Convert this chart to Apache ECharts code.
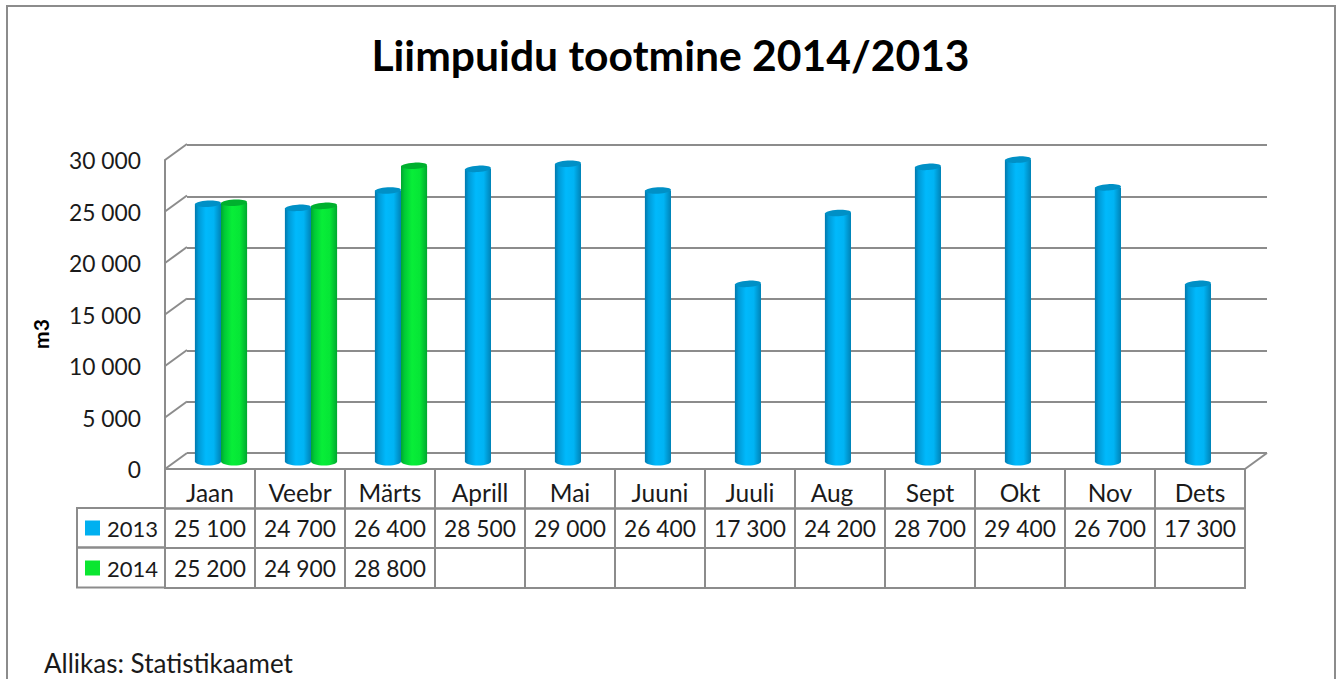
<!DOCTYPE html>
<html>
<head>
<meta charset="utf-8">
<title>Liimpuidu tootmine 2014/2013</title>
<script src="https://cdn.jsdelivr.net/npm/echarts@6/dist/echarts.min.js"></script>
<style>
  html, body { margin: 0; padding: 0; background: #fff; }
  #chart { width: 1341px; height: 679px; }
</style>
</head>
<body>
<div id="chart"></div>
<script>
var months = ['Jaan', 'Veebr', 'Märts', 'Aprill', 'Mai', 'Juuni', 'Juuli', 'Aug', 'Sept', 'Okt', 'Nov', 'Dets'];
var values2013 = [25100, 24700, 26400, 28500, 29000, 26400, 17300, 24200, 28700, 29400, 26700, 17300];
var values2014 = [25200, 24900, 28800, null, null, null, null, null, null, null, null, null];
var yTicks = [0, 5000, 10000, 15000, 20000, 25000, 30000];

(function() {
  var font = 'Lato, "Open Sans", sans-serif';
  var ink = '#1a1a1a';
  var rule = '#8c8c8c';
  var blue = '#00b0f0';
  var green = '#0ae630';
  var rowH = 39.5;
  var labelSize = 22.8;

  function fmt(v) {
    return String(v).replace(/\B(?=(\d{3})+$)/g, ' ');
  }

  function bodyFill(stops) {
    return new echarts.graphic.LinearGradient(0, 0, 1, 0, stops);
  }
  var blueBody = [
    { offset: 0, color: '#0078ac' }, { offset: 0.14, color: '#009ad6' },
    { offset: 0.42, color: '#00b9fc' }, { offset: 0.72, color: '#00b4f4' },
    { offset: 1, color: '#0082b6' }
  ];
  var greenBody = [
    { offset: 0, color: '#00a532' }, { offset: 0.14, color: '#00cb36' },
    { offset: 0.42, color: '#08ee38' }, { offset: 0.72, color: '#06e636' },
    { offset: 1, color: '#00a830' }
  ];

  // one cylinder, side -1 is left of the category centre, 0 is right of it
  function cylinder(side, stops, capColor) {
    return function(params, api) {
      if (isNaN(api.value(1))) return;
      var top = api.coord([api.value(0), api.value(1)]);
      var base = api.coord([api.value(0), 0]);
      var w = api.size([1, 0])[0] * 0.29;
      var x = top[0] + side * w;
      var fill = bodyFill(stops);
      return {
        type: 'group',
        children: [
          { type: 'ellipse', shape: { cx: x + w / 2, cy: base[1], rx: w / 2, ry: 4 }, style: { fill: fill } },
          { type: 'rect', shape: { x: x, y: top[1], width: w, height: base[1] - top[1] }, style: { fill: fill } },
          {
            type: 'ellipse',
            shape: { cx: 0, cy: 0, rx: w / 2, ry: 3.2 },
            x: x + w / 2, y: top[1], rotation: 0.06,
            style: { fill: capColor }
          }
        ]
      };
    };
  }

  // diagonal lines on the side wall and floor, from the front plane to the back wall
  var depthX = 22;
  var depthY = -16;
  function wallLine(params, api) {
    var v = api.value(0);
    var p = api.coord([0, v]);
    var x0 = params.coordSys.x;
    return {
      type: 'line',
      shape: { x1: x0, y1: p[1], x2: x0 + depthX, y2: p[1] + depthY },
      style: { stroke: rule, lineWidth: 2 }
    };
  }
  function floorEnd(params, api) {
    var p = api.coord([0, 0]);
    var x1 = params.coordSys.x + params.coordSys.width;
    return {
      type: 'line',
      shape: { x1: x1, y1: p[1], x2: x1 + depthX, y2: p[1] + depthY },
      style: { stroke: rule, lineWidth: 2 }
    };
  }

  // table under the plot, one column per category
  function tableColumn(params, api) {
    var i = api.value(0);
    var floor = api.coord([i, 0]);
    var w = api.size([1, 0])[0];
    var left = floor[0] - w / 2;
    var y0 = floor[1];
    var line = { fill: 'none', stroke: rule, lineWidth: 2 };
    var children = [
      { type: 'rect', shape: { x: left, y: y0, width: w, height: rowH }, style: line },
      { type: 'rect', shape: { x: left, y: y0 + rowH, width: w, height: rowH }, style: line },
      { type: 'rect', shape: { x: left, y: y0 + rowH * 2, width: w, height: rowH + 0.5 }, style: line }
    ];
    [api.value(1), api.value(2)].forEach(function(v, r) {
      if (isNaN(v)) return;
      children.push({
        type: 'text',
        x: floor[0], y: y0 + rowH * (r + 1.5),
        style: { text: fmt(v), fill: ink, font: labelSize + 'px ' + font, align: 'center', verticalAlign: 'middle' }
      });
    });
    return { type: 'group', children: children };
  }

  var tableRows = months.map(function(m, i) { return [i, values2013[i], values2014[i]]; });

  var chart = echarts.init(document.getElementById('chart'), null, { renderer: 'svg' });
  chart.setOption({
    animation: false,
    backgroundColor: '#fff',
    textStyle: { fontFamily: font },
    title: [
      {
        text: 'Liimpuidu tootmine 2014/2013',
        left: 'center', top: 28,
        textStyle: { color: '#000', fontSize: 42.6, fontWeight: 'bold', fontFamily: font }
      },
      {
        text: 'Allikas: Statistikaamet',
        left: 44, top: 650, padding: 0,
        textStyle: { color: ink, fontSize: 26, lineHeight: 26, fontWeight: 'normal', fontFamily: font }
      }
    ],
    legend: {
      data: ['2013', '2014'],
      orient: 'vertical',
      left: 85, top: 513,
      padding: 0,
      itemWidth: 15, itemHeight: 15, itemGap: 10,
      icon: 'rect',
      selectedMode: false,
      textStyle: { color: ink, fontSize: 22, lineHeight: 30, padding: [0, 0, 0, 2], fontFamily: font }
    },
    grid: [
      { left: 187, width: 1080, top: 145, height: 308 },   // back wall
      { left: 165, width: 1080, top: 160, height: 309 },   // front plane, axis labels
      { left: 176, width: 1080, top: 153.5, height: 308 }  // mid depth, the cylinders
    ],
    xAxis: [
      {
        type: 'category', gridIndex: 0, data: months,
        axisLine: { show: false }, axisTick: { show: false }, axisLabel: { show: false }
      },
      {
        type: 'category', gridIndex: 1,
        data: months.map(function(m) {
          return m === 'Aug' ? { value: m, textStyle: { padding: [0, 16, 0, 0] } } : m;
        }),
        axisLine: { show: false }, axisTick: { show: false },
        axisLabel: { color: ink, fontSize: 24.5, margin: 11, fontFamily: font, interval: 0 },
        z: 5
      },
      {
        type: 'category', gridIndex: 2, data: months,
        axisLine: { show: false }, axisTick: { show: false }, axisLabel: { show: false }
      }
    ],
    yAxis: [
      {
        type: 'value', gridIndex: 0, min: 0, max: 30000, interval: 5000,
        axisLine: { show: false }, axisTick: { show: false }, axisLabel: { show: false },
        splitLine: { lineStyle: { color: rule, width: 2 } }
      },
      {
        type: 'value', gridIndex: 1, min: 0, max: 30000, interval: 5000,
        axisLine: { show: true, lineStyle: { color: rule, width: 2 } },
        axisTick: { show: false },
        splitLine: { show: false },
        axisLabel: { color: ink, fontSize: labelSize, margin: 24, fontFamily: font, formatter: fmt }
      },
      {
        type: 'value', gridIndex: 2, min: 0, max: 30000, interval: 5000,
        axisLine: { show: false }, axisTick: { show: false }, axisLabel: { show: false },
        splitLine: { show: false }
      }
    ],
    series: [
      {
        type: 'custom', xAxisIndex: 1, yAxisIndex: 1, silent: true, z: 1,
        data: yTicks.map(function(v) { return [v]; }),
        encode: { y: 0 },
        renderItem: wallLine
      },
      {
        type: 'custom', xAxisIndex: 1, yAxisIndex: 1, silent: true, z: 1,
        data: [[0]],
        encode: { y: 0 },
        renderItem: floorEnd
      },
      {
        type: 'custom', xAxisIndex: 1, yAxisIndex: 1, silent: true, z: 2,
        data: tableRows,
        renderItem: tableColumn
      },
      {
        name: '2013', type: 'custom', xAxisIndex: 2, yAxisIndex: 2, z: 3,
        itemStyle: { color: blue },
        data: values2013.map(function(v, i) { return [i, v]; }),
        encode: { x: 0, y: 1 },
        renderItem: cylinder(-1, blueBody, '#0090c6')
      },
      {
        name: '2014', type: 'custom', xAxisIndex: 2, yAxisIndex: 2, z: 4,
        itemStyle: { color: green },
        data: values2014.map(function(v, i) { return [i, v]; }),
        encode: { x: 0, y: 1 },
        renderItem: cylinder(0, greenBody, '#00b02e')
      }
    ],
    graphic: [
      {
        type: 'rect', silent: true, z: -1,
        shape: { x: 7, y: 6, width: 1328, height: 700 },
        style: { fill: 'none', stroke: rule, lineWidth: 2 }
      },
      {
        // row label cells left of the table
        type: 'rect', silent: true,
        shape: { x: 77, y: 508, width: 88, height: 39.5 },
        style: { fill: 'none', stroke: rule, lineWidth: 2 }
      },
      {
        type: 'rect', silent: true,
        shape: { x: 77, y: 547.5, width: 88, height: 40 },
        style: { fill: 'none', stroke: rule, lineWidth: 2 }
      },
      {
        type: 'text', silent: true,
        x: 40, y: 334, rotation: Math.PI / 2,
        style: { text: 'm3', fill: '#000', font: 'bold 21px ' + font, align: 'center', verticalAlign: 'middle' }
      }
    ]
  });
  window.addEventListener('resize', function() { chart.resize(); });
})();
</script>
</body>
</html>
